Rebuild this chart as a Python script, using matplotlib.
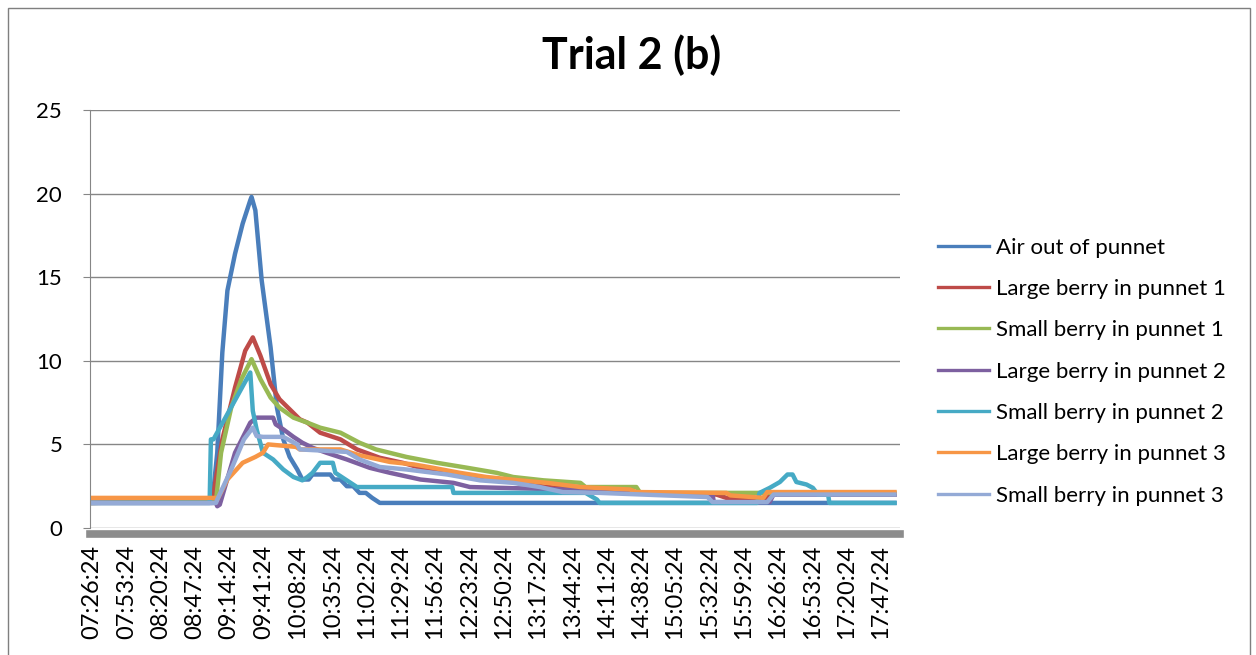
import matplotlib.pyplot as plt
from matplotlib.lines import Line2D
from matplotlib.patches import Rectangle

plt.rcParams['font.family'] = ['Lato', 'DejaVu Sans']

# tick labels on the category axis
tick_labels = ["07:26:24", "07:53:24", "08:20:24", "08:47:24", "09:14:24", "09:41:24",
               "10:08:24", "10:35:24", "11:02:24", "11:29:24", "11:56:24", "12:23:24",
               "12:50:24", "13:17:24", "13:44:24", "14:11:24", "14:38:24", "15:05:24",
               "15:32:24", "15:59:24", "16:26:24", "16:53:24", "17:20:24", "17:47:24"]

names = ["Air out of punnet", "Large berry in punnet 1", "Small berry in punnet 1",
         "Large berry in punnet 2", "Small berry in punnet 2", "Large berry in punnet 3",
         "Small berry in punnet 3"]

# values (time, reading)
air_t = ["07:25", "09:01", "09:05", "09:09", "09:13", "09:19", "09:25", "09:31", "09:32", "09:35",
         "09:40", "09:47", "09:52", "09:57", "10:02", "10:08", "10:12", "10:17", "10:20", "10:34",
         "10:37", "10:42", "10:47", "10:52", "10:57", "11:02", "11:07", "11:13", "18:00"]
air_v = [1.5, 1.5, 4.5, 10.5, 14.2, 16.4, 18.2, 19.6, 19.8, 19.0,
         14.8, 10.8, 7.2, 5.3, 4.25, 3.5, 2.9, 2.9, 3.2, 3.2,
         2.9, 2.9, 2.5, 2.5, 2.1, 2.1, 1.8, 1.5, 1.5]

lb1_t = ["07:25", "09:01", "09:09", "09:19", "09:27", "09:33", "09:39", "09:47", "09:54", "10:02",
         "10:10", "10:16", "10:26", "10:42", "10:55", "11:13", "11:31", "11:45", "12:06", "12:22",
         "12:58", "13:01", "13:25", "13:50", "13:58", "15:38", "15:46", "16:18", "16:20", "18:00"]
lb1_v = [1.5, 1.6, 5.3, 8.4, 10.6, 11.4, 10.3, 8.6, 7.7, 7.1,
         6.5, 6.3, 5.7, 5.3, 4.7, 4.2, 3.9, 3.6, 3.35, 3.05,
         2.85, 2.7, 2.45, 2.3, 2.15, 2.0, 1.8, 1.8, 2.0, 2.0]

sb1_t = ["07:25", "09:04", "09:08", "09:16", "09:24", "09:32", "09:39", "09:47", "09:54", "10:05",
         "10:16", "10:26", "10:42", "10:57", "11:10", "11:34", "11:58", "12:22", "12:45", "12:58",
         "13:22", "13:51", "13:55", "14:35", "14:38", "18:00"]
sb1_v = [1.5, 1.6, 4.5, 7.2, 8.9, 10.1, 8.9, 7.8, 7.2, 6.6,
         6.3, 6.0, 5.7, 5.1, 4.7, 4.25, 3.9, 3.6, 3.3, 3.05,
         2.85, 2.7, 2.45, 2.45, 2.1, 2.1]

lb2_t = ["07:25", "09:04", "09:05", "09:07", "09:19", "09:31", "09:36", "09:49", "09:51", "09:57",
         "10:05", "10:12", "10:20", "10:31", "10:47", "11:05", "11:21", "11:45", "12:11", "12:24",
         "13:40", "14:10", "15:35", "15:36", "16:20", "16:23", "18:00"]
lb2_v = [1.5, 1.5, 1.3, 1.4, 4.5, 6.3, 6.6, 6.6, 6.2, 5.9,
         5.45, 5.1, 4.8, 4.5, 4.1, 3.6, 3.3, 2.9, 2.7, 2.45,
         2.3, 2.15, 2.0, 1.55, 1.55, 2.0, 2.0]

sb2_t = ["07:25", "08:59", "09:00", "09:02", "09:31", "09:33", "09:36", "09:41", "09:49", "09:57",
         "10:05", "10:12", "10:16", "10:20", "10:26", "10:36", "10:38", "10:47", "10:55", "12:10",
         "12:11", "13:55", "14:04", "14:06", "16:10", "16:12", "16:20", "16:28", "16:34", "16:38",
         "16:41", "16:49", "16:54", "16:58", "17:06", "17:07", "18:00"]
sb2_v = [1.5, 1.5, 5.3, 5.3, 9.3, 7.0, 5.9, 4.5, 4.1, 3.5,
         3.05, 2.85, 3.05, 3.3, 3.9, 3.9, 3.3, 2.85, 2.45, 2.45,
         2.1, 2.1, 1.7, 1.5, 1.5, 2.1, 2.4, 2.75, 3.2, 3.2,
         2.75, 2.6, 2.4, 2.0, 2.0, 1.5, 1.5]

lb3_t = ["07:25", "09:04", "09:05", "09:13", "09:25", "09:35", "09:41", "09:45", "10:07", "10:10",
         "10:42", "10:57", "11:21", "11:40", "11:55", "12:16", "12:37", "13:03", "13:25", "13:51",
         "14:30", "14:35", "15:46", "15:49", "16:15", "16:18", "18:00"]
lb3_v = [1.8, 1.8, 1.7, 2.9, 3.9, 4.25, 4.5, 5.0, 4.85, 4.7,
         4.7, 4.35, 3.95, 3.8, 3.6, 3.3, 3.05, 2.85, 2.7, 2.45,
         2.3, 2.15, 2.1, 1.95, 1.8, 2.15, 2.15]

sb3_t = ["07:25", "09:04", "09:05", "09:16", "09:26", "09:33", "09:36", "09:41", "09:57", "10:08",
         "10:10", "10:47", "10:57", "11:13", "11:34", "12:06", "12:32", "12:58", "13:19", "13:37",
         "14:06", "15:31", "15:35", "16:18", "16:23", "18:00"]
sb3_v = [1.5, 1.5, 1.7, 3.5, 5.3, 6.0, 5.5, 5.45, 5.45, 5.0,
         4.7, 4.55, 4.1, 3.65, 3.5, 3.2, 2.85, 2.7, 2.45, 2.15,
         2.1, 1.85, 1.55, 1.55, 2.0, 2.0]

colors = ['#4A7EBB', '#BE4B48', '#98B954', '#7D60A0', '#46AAC5', '#F79646', '#94AAD6']


def to_min(s):
    # "HH:MM" or "HH:MM:SS" -> minutes since midnight
    p = [int(x) for x in s.split(':')]
    m = p[0] * 60 + p[1]
    if len(p) == 3:
        m += p[2] / 60
    return m


series = [(air_t, air_v), (lb1_t, lb1_v), (sb1_t, sb1_v), (lb2_t, lb2_v),
          (sb2_t, sb2_v), (lb3_t, lb3_v), (sb3_t, sb3_v)]

fig = plt.figure(figsize=(12.56, 6.55), dpi=100)
ax = fig.add_axes([90 / 1256, 127 / 655, 810 / 1256, 418 / 655])

for (t, v), c in zip(series, colors):
    ax.plot([to_min(s) for s in t], v, color=c, lw=3.2, solid_joinstyle='round', solid_capstyle='butt')

ax.set_xlim(444.8, 1082.6)
ax.set_ylim(0, 25)
ax.set_yticks(range(0, 26, 5))
ax.yaxis.grid(True, color='#868686', lw=1)
ax.set_axisbelow(True)

ax.set_xticks([to_min(s) for s in tick_labels])
ax.set_xticklabels(tick_labels)

for side in ['top', 'right']:
    ax.spines[side].set_visible(False)
ax.spines['left'].set_color('#868686')
ax.spines['bottom'].set_color('#8C8C8C')
ax.spines['bottom'].set_linewidth(5.5)
ax.spines['bottom'].set_position(('outward', 4))

ax.tick_params(axis='y', length=5, color='#868686', labelsize=16, pad=15)
ax.tick_params(axis='x', length=0, labelsize=17, pad=8, labelrotation=90)

fig.text(0.503, 0.916, 'Trial 2 (b)', ha='center', va='center', fontsize=31, fontweight='bold')

handles = [Line2D([], [], color=c, lw=2.4) for c in colors]
fig.legend(handles, names, loc='center left', bbox_to_anchor=(938 / 1256, 1 - 371.5 / 655),
           frameon=False, fontsize=16, handlelength=2.3, handletextpad=0.3,
           labelspacing=0.96, borderpad=0, borderaxespad=0)

fig.add_artist(Rectangle((8 / 1256, -0.01), 1242 / 1256, 1 - 8 / 655 + 0.01,
                         transform=fig.transFigure, fill=False, edgecolor='#7F7F7F', lw=1))

fig.savefig('out.png', dpi=100)
